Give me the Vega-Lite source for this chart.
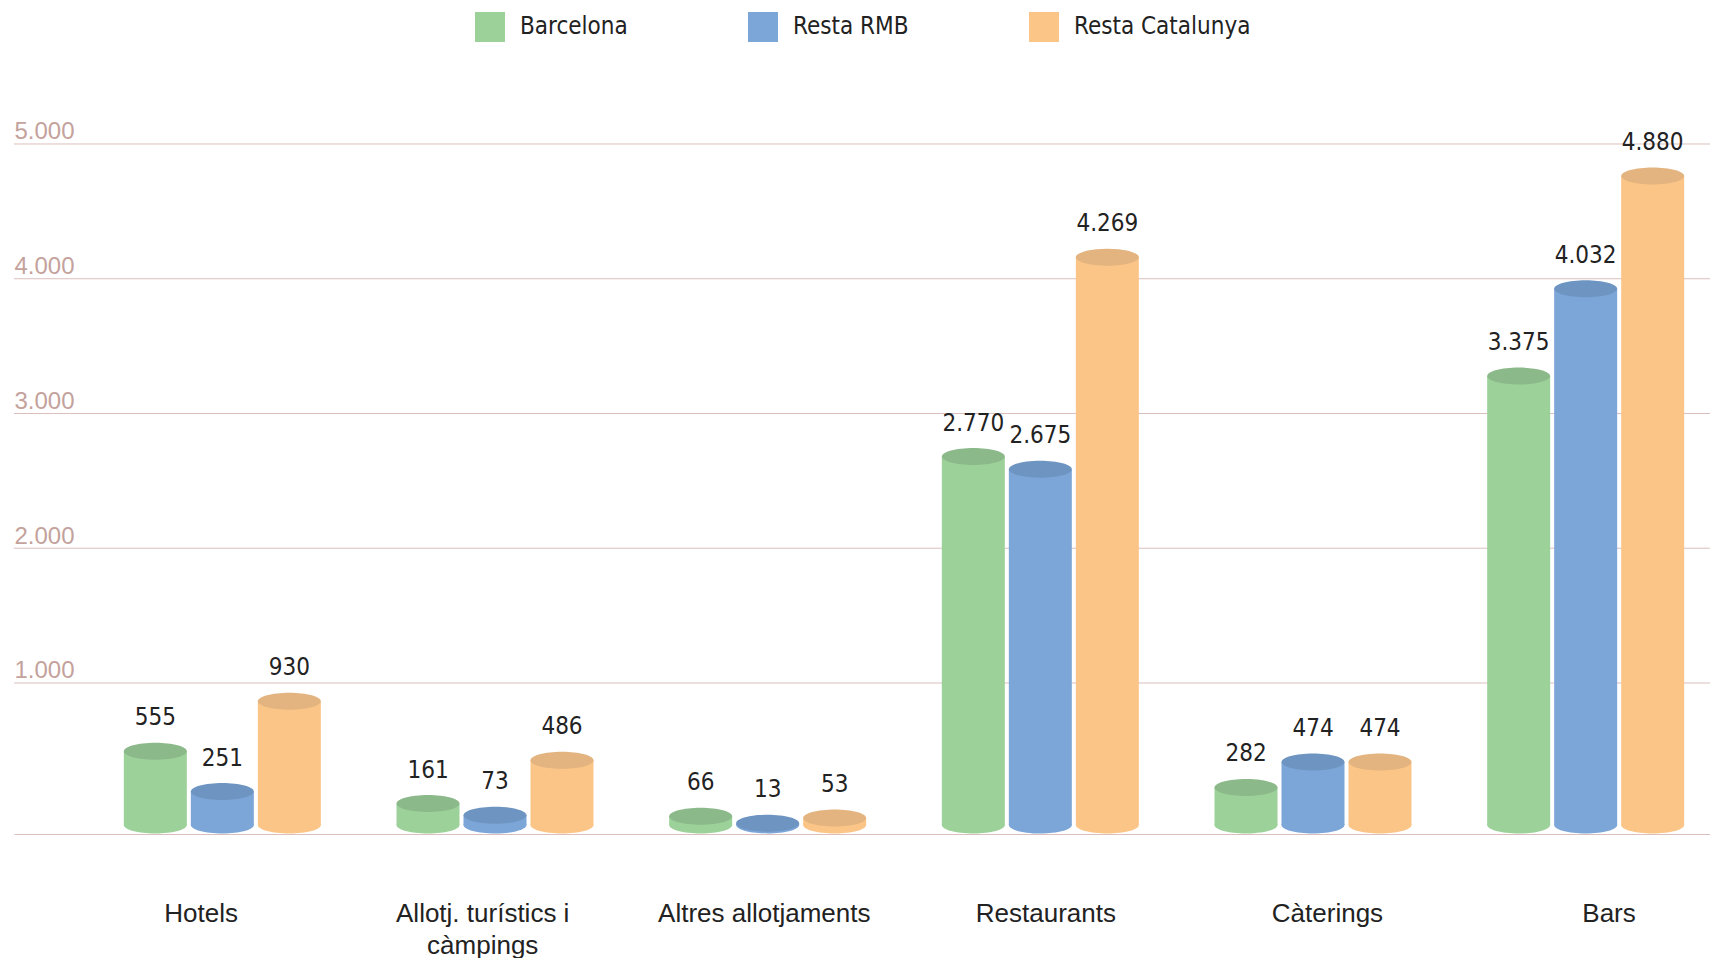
{
  "$schema": "https://vega.github.io/schema/vega-lite/v6.json",
  "autosize": "none",
  "width": 1696,
  "height": 734,
  "padding": {"left": 14, "top": 100, "right": 0, "bottom": 124},
  "background": "white",
  "config": {
    "view": {"stroke": null},
    "locale": {"number": {"decimal": ",", "thousands": ".", "grouping": [3], "currency": ["", " €"]}}
  },
  "datasets": {
    "bars": [
      {"cat": "Hotels", "region": "Barcelona", "value": 555},
      {"cat": "Hotels", "region": "Resta RMB", "value": 251},
      {"cat": "Hotels", "region": "Resta Catalunya", "value": 930},
      {"cat": "Allotj. turístics i càmpings", "region": "Barcelona", "value": 161},
      {"cat": "Allotj. turístics i càmpings", "region": "Resta RMB", "value": 73},
      {"cat": "Allotj. turístics i càmpings", "region": "Resta Catalunya", "value": 486},
      {"cat": "Altres allotjaments", "region": "Barcelona", "value": 66},
      {"cat": "Altres allotjaments", "region": "Resta RMB", "value": 13},
      {"cat": "Altres allotjaments", "region": "Resta Catalunya", "value": 53},
      {"cat": "Restaurants", "region": "Barcelona", "value": 2770},
      {"cat": "Restaurants", "region": "Resta RMB", "value": 2675},
      {"cat": "Restaurants", "region": "Resta Catalunya", "value": 4269},
      {"cat": "Càterings", "region": "Barcelona", "value": 282},
      {"cat": "Càterings", "region": "Resta RMB", "value": 474},
      {"cat": "Càterings", "region": "Resta Catalunya", "value": 474},
      {"cat": "Bars", "region": "Barcelona", "value": 3375},
      {"cat": "Bars", "region": "Resta RMB", "value": 4032},
      {"cat": "Bars", "region": "Resta Catalunya", "value": 4880}
    ],
    "grid": [{"v": 1000}, {"v": 2000}, {"v": 3000}, {"v": 4000}, {"v": 5000}],
    "cats": [
      {"cat": "Hotels"}, {"cat": "Allotj. turístics i càmpings"}, {"cat": "Altres allotjaments"},
      {"cat": "Restaurants"}, {"cat": "Càterings"}, {"cat": "Bars"}
    ]
  },
  "resolve": {
    "scale": {"x": "independent", "y": "independent"},
    "axis": {"x": "independent", "y": "independent"}
  },
  "layer": [
    {
      "data": {"name": "grid"},
      "mark": {"type": "rule", "color": "#dbbfbd", "strokeWidth": 1},
      "encoding": {
        "y": {
          "field": "v", "type": "quantitative",
          "scale": {"domain": [-120.6, 5326.5], "nice": false, "zero": false},
          "axis": {
            "orient": "left", "values": [1000, 2000, 3000, 4000, 5000], "format": ",d",
            "domain": false, "ticks": false, "grid": false, "title": null,
            "labelAlign": "left", "labelBaseline": "bottom", "labelPadding": 0,
            "labelFont": "Liberation Sans", "labelFontSize": 24, "labelColor": "#c4a29c"
          }
        }
      }
    },
    {
      "data": {"name": "bars"},
      "encoding": {
        "x": {
          "field": "cat", "type": "nominal",
          "sort": ["Hotels", "Allotj. turístics i càmpings", "Altres allotjaments", "Restaurants", "Càterings", "Bars"],
          "scale": {"range": [72, 1708], "paddingInner": 0, "paddingOuter": 0},
          "axis": null
        },
        "xOffset": {
          "field": "region", "type": "nominal",
          "sort": ["Barcelona", "Resta RMB", "Resta Catalunya"],
          "scale": {"paddingInner": 0.0597, "paddingOuter": 0.5647}
        }
      },
      "layer": [
        {
          "mark": {"type": "bar"},
          "encoding": {
            "y": {
              "field": "value", "type": "quantitative",
              "scale": {"domain": [-67.7, 5451], "nice": false, "zero": false},
              "axis": null
            },
            "y2": {"datum": 0},
            "color": {
              "field": "region", "type": "nominal",
              "sort": ["Barcelona", "Resta RMB", "Resta Catalunya"],
              "scale": {"domain": ["Barcelona", "Resta RMB", "Resta Catalunya"], "range": ["#9dd19a", "#7da6d8", "#fbc587"]},
              "legend": {
                "orient": "none", "legendX": 461, "legendY": -88, "direction": "horizontal",
                "title": null, "symbolType": "square", "symbolSize": 900, "symbolStrokeWidth": 0,
                "symbolOpacity": 1, "labelLimit": 400,
                "labelFont": "DejaVu Sans Condensed, Roboto, sans-serif", "labelFontSize": 24, "labelColor": "#222222",
                "labelOffset": 15, "columnPadding": 120, "padding": 0
              }
            }
          }
        },
        {
          "mark": {
            "type": "point", "filled": true, "opacity": 1, "strokeWidth": 0, "size": 3969,
            "shape": "M-1,0C-1,-0.149,-0.552,-0.27,0,-0.27C0.552,-0.27,1,-0.149,1,0C1,0.149,0.552,0.27,0,0.27C-0.552,0.27,-1,0.149,-1,0Z"
          },
          "encoding": {
            "y": {"datum": 0},
            "color": {"field": "region", "type": "nominal"}
          }
        },
        {
          "mark": {
            "type": "point", "filled": true, "opacity": 1, "strokeWidth": 0, "size": 3969,
            "shape": "M-1,0C-1,-0.149,-0.552,-0.27,0,-0.27C0.552,-0.27,1,-0.149,1,0C1,0.149,0.552,0.27,0,0.27C-0.552,0.27,-1,0.149,-1,0Z"
          },
          "encoding": {
            "y": {"field": "value", "type": "quantitative"},
            "fill": {
              "field": "region", "type": "nominal",
              "scale": {"domain": ["Barcelona", "Resta RMB", "Resta Catalunya"], "range": ["#8bb98a", "#6e95c1", "#e3b47f"]},
              "legend": null
            }
          }
        },
        {
          "mark": {
            "type": "text", "baseline": "alphabetic", "dy": -26,
            "font": "DejaVu Sans Condensed, Roboto, sans-serif", "fontSize": 24, "color": "#222222"
          },
          "encoding": {
            "y": {"field": "value", "type": "quantitative"},
            "text": {"field": "value", "type": "quantitative", "format": ",d"}
          }
        }
      ]
    },
    {
      "data": {"name": "cats"},
      "mark": {"type": "rule", "strokeOpacity": 0},
      "encoding": {
        "x": {
          "field": "cat", "type": "nominal",
          "sort": ["Hotels", "Allotj. turístics i càmpings", "Altres allotjaments", "Restaurants", "Càterings", "Bars"],
          "scale": {"paddingInner": 0.283, "paddingOuter": 0.153, "align": 1},
          "axis": {
            "orient": "bottom", "title": null, "ticks": false,
            "domain": true, "domainColor": "#dbbfbd", "domainWidth": 1,
            "labelFont": "Liberation Sans", "labelFontSize": 26, "labelColor": "#222222",
            "labelPadding": 66, "labelLineHeight": 32, "labelAngle": 0, "labelLimit": 400,
            "labelExpr": "datum.value == 'Allotj. turístics i càmpings' ? ['Allotj. turístics i', 'càmpings'] : datum.value"
          }
        }
      }
    }
  ]
}
